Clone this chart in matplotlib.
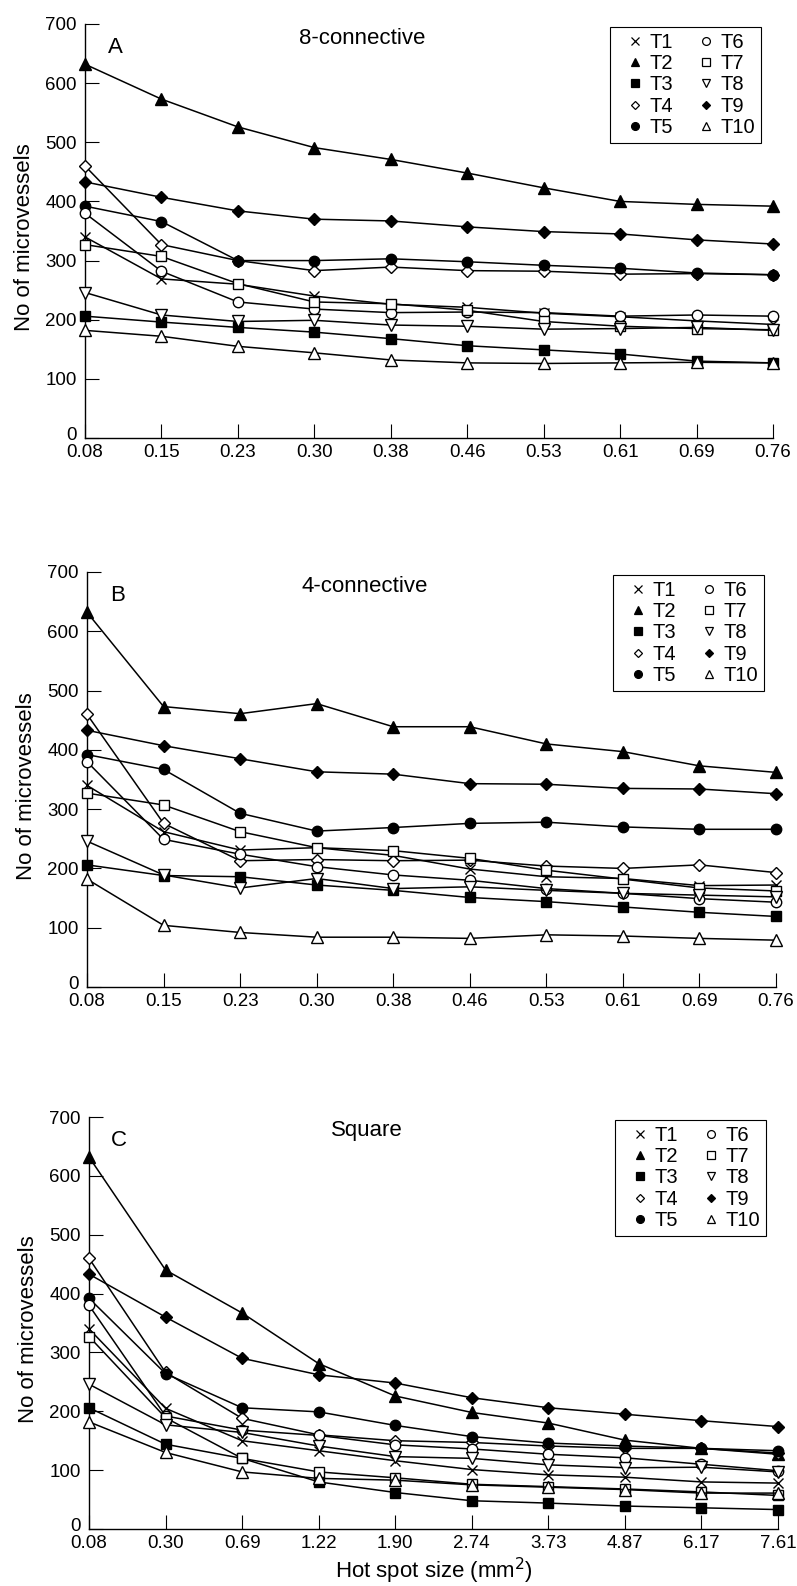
import numpy as np
import matplotlib
matplotlib.use("Agg")
import matplotlib.pyplot as plt
import matplotlib.transforms as mtransforms
from matplotlib.lines import Line2D

plt.rcParams['font.family'] = ['Liberation Sans', 'DejaVu Sans']

series_names = ["T1", "T2", "T3", "T4", "T5", "T6", "T7", "T8", "T9", "T10"]

x_labels_ab = ["0.08", "0.15", "0.23", "0.30", "0.38", "0.46", "0.53", "0.61", "0.69", "0.76"]
x_labels_c = ["0.08", "0.30", "0.69", "1.22", "1.90", "2.74", "3.73", "4.87", "6.17", "7.61"]

# panel A, 8-connective
eight_conn = [
    [340, 269, 260, 240, 226, 221, 211, 205, 198, 192],
    [632, 573, 526, 491, 471, 448, 423, 400, 395, 392],
    [206, 196, 187, 179, 168, 156, 149, 142, 130, 127],
    [460, 327, 300, 283, 289, 283, 282, 277, 278, 276],
    [392, 366, 300, 300, 303, 298, 292, 287, 279, 276],
    [380, 282, 230, 218, 212, 213, 212, 206, 208, 206],
    [327, 307, 261, 230, 227, 216, 197, 189, 185, 183],
    [246, 208, 197, 199, 191, 189, 184, 185, 187, 182],
    [433, 407, 384, 370, 367, 357, 349, 345, 335, 328],
    [182, 172, 155, 144, 132, 127, 126, 127, 128, 127],
]

# panel B, 4-connective
four_conn = [
    [340, 262, 231, 235, 222, 199, 186, 183, 171, 172],
    [632, 473, 461, 478, 439, 439, 410, 397, 373, 362],
    [206, 188, 186, 172, 163, 151, 144, 135, 126, 119],
    [460, 276, 213, 215, 213, 214, 204, 200, 206, 193],
    [392, 367, 293, 263, 269, 276, 278, 270, 266, 266],
    [380, 249, 224, 203, 189, 180, 166, 158, 149, 143],
    [327, 307, 262, 235, 230, 217, 197, 182, 167, 162],
    [246, 189, 167, 183, 166, 169, 163, 158, 155, 152],
    [433, 407, 385, 363, 359, 343, 342, 335, 334, 326],
    [182, 104, 92, 84, 84, 82, 88, 86, 82, 79],
]

# panel C, square
square = [
    [340, 205, 150, 133, 116, 101, 92, 88, 80, 78],
    [632, 440, 367, 281, 226, 198, 180, 151, 137, 127],
    [206, 144, 120, 80, 62, 48, 44, 39, 36, 33],
    [460, 266, 188, 160, 150, 147, 141, 137, 137, 129],
    [392, 264, 206, 199, 176, 157, 146, 141, 137, 133],
    [380, 192, 168, 159, 143, 136, 127, 121, 110, 99],
    [327, 189, 120, 97, 87, 76, 72, 68, 63, 57],
    [246, 177, 164, 141, 123, 120, 109, 104, 105, 97],
    [433, 360, 290, 262, 248, 223, 206, 195, 184, 174],
    [182, 130, 97, 86, 83, 75, 71, 67, 61, 61],
]

# marker, filled?, size
styles = [
    ('x', True, 7),
    ('^', True, 8),
    ('s', True, 7),
    ('D', False, 6),
    ('o', True, 7.5),
    ('o', False, 7.5),
    ('s', False, 7),
    ('v', False, 8),
    ('D', True, 6),
    ('^', False, 8),
]

W, H = 797, 1586
fig = plt.figure(figsize=(W / 100, H / 100), dpi=100)


def px_axes(left, right, top, bottom):
    return fig.add_axes([left / W, 1 - bottom / H, (right - left) / W, (bottom - top) / H])


panels = [
    (eight_conn, x_labels_ab, "8-connective", "A", (85, 773, 24, 438), 0.964),
    (four_conn, x_labels_ab, "4-connective", "B", (87, 776, 572, 987), 0.964),
    (square, x_labels_c, "Square", "C", (89, 778, 1117, 1529), 0.968),
]

xs = np.arange(10)

for data, xlabels, title, letter, box, ty in panels:
    ax = px_axes(*box)
    for i, vals in enumerate(data):
        m, filled, ms = styles[i]
        ax.plot(xs, vals, color='black', lw=1.1, marker=m, ms=ms,
                mfc='black' if filled else 'white', mec='black', mew=1.0,
                clip_on=False, zorder=3)
    ax.set_xlim(0, 9)
    ax.set_ylim(0, 700)
    ax.set_yticks(range(0, 701, 100))
    ax.set_xticks(xs)
    ax.set_xticklabels(xlabels)
    ax.spines['top'].set_visible(False)
    ax.spines['right'].set_visible(False)
    ax.spines['left'].set_linewidth(1.0)
    ax.spines['bottom'].set_linewidth(1.0)
    ax.tick_params(direction='in', length=10, width=0.8, labelsize=13.5)
    ax.tick_params(axis='y', pad=6)
    ax.tick_params(axis='x', pad=4)
    # lift the "0" label a little so it sits above the first x label
    zero_lab = ax.get_yticklabels()[0]
    zero_lab.set_transform(zero_lab.get_transform() +
                           mtransforms.ScaledTranslation(0, 3 / 72, fig.dpi_scale_trans))
    ax.set_ylabel("No of microvessels", fontsize=16)
    ax.yaxis.set_label_coords(-0.073, 0.485)
    ax.text(0.403, ty, title, transform=ax.transAxes, fontsize=16,
            ha='center', va='center')
    ax.text(0.044, 0.944, letter, transform=ax.transAxes, fontsize=16,
            ha='center', va='center')

    handles = []
    for i in range(10):
        m, filled, ms = styles[i]
        handles.append(Line2D([], [], ls='none', marker=m, ms=ms * 0.75,
                              mfc='black' if filled else 'white', mec='black', mew=0.9))
    leg = ax.legend(handles, series_names, ncol=2, loc='upper right',
                    bbox_to_anchor=(0.9826, 0.993), borderaxespad=0,
                    fontsize=14.5, frameon=True, fancybox=False,
                    handlelength=1.9, handletextpad=-0.25, columnspacing=0.7,
                    labelspacing=0.11, borderpad=0.3)
    leg.get_frame().set_edgecolor('black')
    leg.get_frame().set_linewidth(0.8)
    leg.get_frame().set_alpha(1)

    if letter == "C":
        ax.set_xlabel("Hot spot size (mm$^2$)", fontsize=16, labelpad=3)

fig.savefig("out.png", dpi=100)
